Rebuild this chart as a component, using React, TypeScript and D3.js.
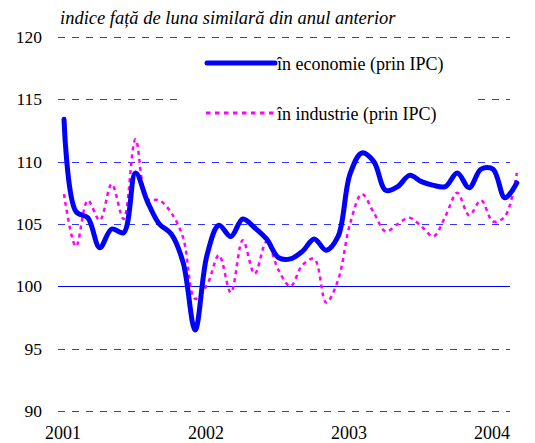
import React from "react";
import * as d3 from "d3";

const yTicks = [90, 95, 100, 105, 110, 115, 120];
const yearLabels = ["2001", "2002", "2003", "2004"];
const yearMonthIndex = [0, 12, 24, 36];

// monthly, Jan 2001 .. Mar 2004
const economie = [
  113.4, 106.0, 105.5, 103.1, 104.6, 104.3, 109.1, 106.8, 105.0, 104.2, 101.9, 96.5,
  102.5, 104.9, 104.0, 105.4, 104.7, 103.8, 102.3, 102.2, 102.8, 103.8, 102.9, 104.0,
  109.0, 110.7, 110.0, 107.7, 108.0, 108.9, 108.4, 108.1, 108.0, 109.1, 107.9, 109.4,
  109.4, 107.1, 108.3,
];
const industrie = [
  107.4, 103.2, 106.9, 105.3, 108.2, 105.4, 111.8, 107.0, 106.9, 105.9, 103.9, 99.0,
  100.1, 102.5, 99.5, 103.7, 101.0, 103.6, 101.3, 100.0, 101.7, 102.2, 98.7, 100.5,
  105.0, 107.4, 105.9, 104.4, 105.0, 105.5, 104.8, 104.0, 105.6, 107.5, 105.7, 106.9,
  105.2, 105.6, 109.1,
];
const seriesNames = ["în economie (prin IPC)", "în industrie (prin IPC)"];
const title = "indice față de luna similară din anul anterior";

const font = "'Liberation Serif', 'Times New Roman', serif";

export default function App() {
  const W = 535, H = 443;
  const x = d3.scaleLinear().domain([0, 36]).range([64, 493]);
  const y = d3.scaleLinear().domain([90, 120]).range([411, 37]);
  const line = d3
    .line<number>()
    .x((_, i) => x(i))
    .y((d) => y(d))
    .curve(d3.curveCatmullRom.alpha(0.5));
  const ts = { fontFamily: font };
  return (
    <svg width={W} height={H} style={{ position: "absolute", left: 0, top: 0, background: "#fff" }}>
      <rect width={W} height={H} fill="#fff" />
      {yTicks.map((t) => (
        <g key={t}>
          <line
            x1={58}
            x2={510}
            y1={Math.round(y(t)) + 0.5}
            y2={Math.round(y(t)) + 0.5}
            stroke={t === 100 ? "#0000ff" : "#3333ff"}
            strokeWidth={1}
            strokeDasharray={t === 100 ? undefined : "7,7"}
          />
          <text x={42} y={y(t) + 6} fontSize={17.5} textAnchor="end" fill="#000" style={ts}>
            {t}
          </text>
        </g>
      ))}
      {yearLabels.map((l, i) => (
        <text key={l} x={x(yearMonthIndex[i]) - 1} y={439} fontSize={18} textAnchor="middle" fill="#000" style={ts}>
          {l}
        </text>
      ))}
      <text x={60} y={24} fontSize={18.5} fontStyle="italic" fill="#000" style={ts}>
        {title}
      </text>
      {/* legend background */}
      <rect x={183} y={45} width={294} height={85} fill="#fff" />
      <path d={line(industrie) || ""} fill="none" stroke="#ff00ff" strokeWidth={2.5} strokeDasharray="4,4" />
      <path d={line(economie) || ""} fill="none" stroke="#0000ff" strokeWidth={5} strokeLinejoin="round" strokeLinecap="round" />
      <line x1={207} x2={275} y1={63} y2={63} stroke="#0000ff" strokeWidth={5} strokeLinecap="round" />
      <text x={277} y={70} fontSize={18} fill="#000" style={ts}>{seriesNames[0]}</text>
      <line x1={206} x2={276} y1={113} y2={113} stroke="#ff00ff" strokeWidth={3} strokeDasharray="4.5,4.5" />
      <text x={277} y={120} fontSize={18} fill="#000" style={ts}>{seriesNames[1]}</text>
    </svg>
  );
}
